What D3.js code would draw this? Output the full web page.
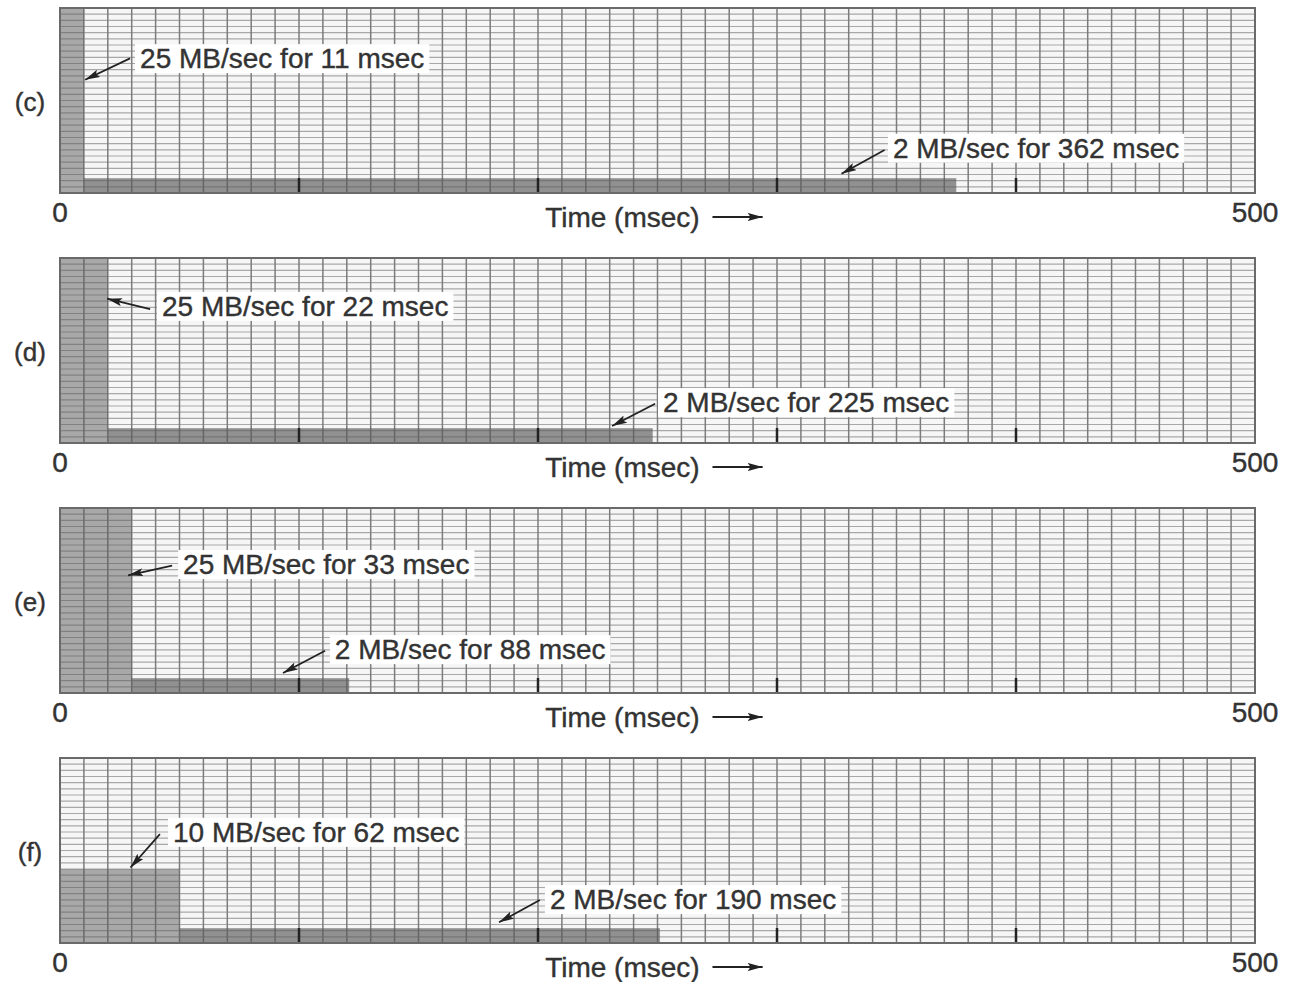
<!DOCTYPE html>
<html>
<head>
<meta charset="utf-8">
<script src="https://cdn.jsdelivr.net/npm/d3@7"></script>
<style>
  body { margin: 0; background: #fff; }
  svg text { font-family: "Liberation Sans", Arial, sans-serif; fill: #333; stroke: #333; stroke-width: 0.4; }
</style>
</head>
<body>
<svg id="chart" width="1294" height="982"></svg>
<script>
// panel data
var panels = ["(c)", "(d)", "(e)", "(f)"];
var burstRate = [25, 25, 25, 10];      // MB/sec
var burstMsec = [11, 22, 33, 62];      // labelled duration
var steadyRate = [2, 2, 2, 2];
var steadyMsec = [362, 225, 88, 190];
// where the bars are actually drawn in the figure (msec)
var burstEnd = [10, 20, 30, 50];
var steadyEnd = [375, 248, 121, 251];
var xTicks = [0, 500];
var majorTicks = [100, 200, 300, 400];

// callout anchors, in data units: [tip t, tip r, tail t, tail r, text t, text r]
var burstCallout = [
  [10.5, 15.3, 29.3, 18.2, 33.5, 18.2],
  [19.7, 19.5, 37.7, 18.1, 42.7, 18.5],
  [28.5, 15.9, 46.9, 17.2, 51.5, 17.4],
  [29.5, 10.2, 41.8, 14.7, 47.3, 15.0]
];
var steadyCallout = [
  [327, 2.6, 345, 5.8, 348.5, 6.1],
  [231, 2.3, 249, 5.3, 252.3, 5.5],
  [93.3, 2.7, 110.9, 5.7, 115, 5.9],
  [183.7, 2.8, 200.8, 5.8, 205, 5.9]
];

var svg = d3.select("#chart");
var left = 60, right = 1255, top0 = 8, step = 250, h = 185;

var x = d3.scaleLinear().domain([0, 500]).range([left, right]);

svg.append("defs").append("marker")
    .attr("id", "head")
    .attr("viewBox", "0 0 15 8")
    .attr("refX", 15).attr("refY", 4)
    .attr("markerWidth", 15).attr("markerHeight", 8)
    .attr("markerUnits", "userSpaceOnUse")
    .attr("orient", "auto")
  .append("path")
    .attr("d", "M0,0 L15,4 L0,8 L3,4 Z")
    .attr("fill", "#222");

panels.forEach(function (name, i) {
    var top = top0 + i * step, bottom = top + h;
    var y = d3.scaleLinear().domain([0, 25]).range([bottom, top]);
    var row = d3.scaleLinear().domain([0, 30]).range([bottom, top]);
    var g = svg.append("g");

    // background grid
    g.append("rect")
        .attr("x", x(0)).attr("y", top)
        .attr("width", x(500) - x(0)).attr("height", h)
        .attr("fill", "#f6f6f6");

    g.selectAll("line.h")
        .data(d3.range(1, 30))
        .enter().append("line")
        .attr("class", "h")
        .attr("x1", x(0)).attr("x2", x(500))
        .attr("y1", function (d) { return row(d); })
        .attr("y2", function (d) { return row(d); })
        .attr("stroke", "#a8a8a8").attr("stroke-width", 1.2);

    g.selectAll("line.v")
        .data(d3.range(10, 500, 10))
        .enter().append("line")
        .attr("class", "v")
        .attr("x1", function (d) { return x(d); })
        .attr("x2", function (d) { return x(d); })
        .attr("y1", top).attr("y2", bottom)
        .attr("stroke", "#7c7c7c").attr("stroke-width", 1.5);

    // bars
    var bars = [
        { t0: 0, t1: burstEnd[i], r: burstRate[i] },
        { t0: burstEnd[i], t1: steadyEnd[i], r: steadyRate[i] }
    ];
    g.selectAll("rect.bar")
        .data(bars)
        .enter().append("rect")
        .attr("class", "bar")
        .attr("x", function (d) { return x(d.t0); })
        .attr("y", function (d) { return y(d.r); })
        .attr("width", function (d) { return x(d.t1) - x(d.t0); })
        .attr("height", function (d) { return bottom - y(d.r); })
        .attr("fill", "#5a5a5a")
        .attr("fill-opacity", function (d) { return d.r > 2 ? 0.5 : 0.65; });

    // major ticks
    g.selectAll("line.tick")
        .data(majorTicks)
        .enter().append("line")
        .attr("x1", function (d) { return x(d); })
        .attr("x2", function (d) { return x(d); })
        .attr("y1", bottom).attr("y2", bottom - 15)
        .attr("stroke", "#222").attr("stroke-width", 2.5);

    g.append("rect")
        .attr("x", x(0)).attr("y", top)
        .attr("width", x(500) - x(0)).attr("height", h)
        .attr("fill", "none")
        .attr("stroke", "#6a6a6a").attr("stroke-width", 2);

    // callouts
    var callouts = [
        { c: burstCallout[i], text: burstRate[i] + " MB/sec for " + burstMsec[i] + " msec" },
        { c: steadyCallout[i], text: steadyRate[i] + " MB/sec for " + steadyMsec[i] + " msec" }
    ];
    callouts.forEach(function (d) {
        var c = d.c;
        var t = g.append("text")
            .attr("x", x(c[4])).attr("y", y(c[5]))
            .attr("dy", "0.35em")
            .attr("font-size", 28)
            .text(d.text);
        var bb = t.node().getBBox();
        g.insert("rect", function () { return t.node(); })
            .attr("x", bb.x - 5).attr("y", bb.y + 1)
            .attr("width", bb.width + 10).attr("height", bb.height - 2)
            .attr("fill", "#fff");
        g.append("line")
            .attr("x1", x(c[2])).attr("y1", y(c[3]))
            .attr("x2", x(c[0])).attr("y2", y(c[1]))
            .attr("stroke", "#222").attr("stroke-width", 1.8)
            .attr("marker-end", "url(#head)");
    });

    // panel name
    svg.append("text")
        .attr("x", 30).attr("y", (top + bottom) / 2 + 1)
        .attr("dy", "0.35em")
        .attr("text-anchor", "middle")
        .attr("font-size", 26)
        .text(name);

    // axis end labels
    svg.selectAll(null)
        .data(xTicks)
        .enter().append("text")
        .attr("x", function (d) { return x(d); })
        .attr("y", bottom + 19)
        .attr("dy", "0.35em")
        .attr("text-anchor", "middle")
        .attr("font-size", 28)
        .text(function (d) { return d; });

    svg.append("text")
        .attr("x", x(203))
        .attr("y", bottom + 24)
        .attr("dy", "0.35em")
        .attr("font-size", 28)
        .text("Time (msec)");
    svg.append("line")
        .attr("x1", x(273)).attr("x2", x(294))
        .attr("y1", bottom + 24).attr("y2", bottom + 24)
        .attr("stroke", "#222").attr("stroke-width", 2)
        .attr("marker-end", "url(#head)");
});
</script>
</body>
</html>
